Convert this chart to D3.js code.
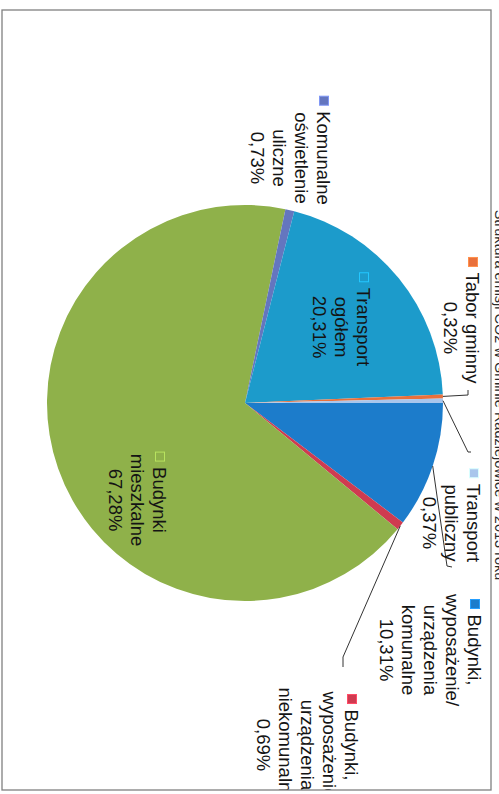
<!DOCTYPE html>
<html>
<head>
<meta charset="utf-8">
<script src="https://cdn.jsdelivr.net/npm/d3@7"></script>
<style>
  html, body { margin: 0; padding: 0; background: #fff; }
  svg { display: block; }
</style>
</head>
<body>
<svg id="chart" width="499" height="794"></svg>
<script>
// Slices, in drawing order (clockwise from 12 o'clock)
const categories = [
  "Budynki, wyposażenie/urządzenia komunalne",
  "Budynki, wyposażenie urządzenia niekomunalne",
  "Budynki mieszkalne",
  "Komunalne oświetlenie uliczne",
  "Transport ogółem",
  "Tabor gminny",
  "Transport publiczny"
];
const shares = [10.31, 0.69, 67.28, 0.73, 20.31, 0.32, 0.37];
const labelLines = [
  ["Budynki,", "wyposażenie/", "urządzenia", "komunalne"],
  ["Budynki,", "wyposażenie", "urządzenia", "niekomunalne"],
  ["Budynki", "mieszkalne"],
  ["Komunalne", "oświetlenie", "uliczne"],
  ["Transport", "ogółem"],
  ["Tabor gminny"],
  ["Transport", "publiczny"]
];
const sliceColors = ["#1c7ccb", "#cf3b50", "#8fb14a", "#6476bf", "#1c9bcb", "#e9703b", "#a9c6ec"];
const chartTitle = "Struktura emisji CO2 w Gminie Radziejowice w 2013 roku";

// Layout (upright chart frame: 794 wide, 499 tall; the page shows it turned 90°)
const cx = 403, cy = 254, R = 198;
const fontSize = 18.5, lineH = 22;
const labelPos = [
  { x: 650, y: 24 },
  { x: 745, y: 147 },
  { x: 500, y: 339 },
  { x: 158, y: 175 },
  { x: 327, y: 135 },
  { x: 328, y: 26 },
  { x: 523, y: 25 }
];
const leaderPts = [
  [[566, 52], [567, 47]],
  [[657, 156], [667, 156]],
  null,
  null,
  null,
  [[395, 31], [390, 31]],
  [[452, 31], [452, 28]]
];

const fmt = v => d3.format(".2f")(v).replace(".", ",") + "%";

const svg = d3.select("#chart");
const root = svg.append("g").attr("transform", "translate(499,0) rotate(90)");

// Chart area frame and clip
root.append("defs").append("clipPath").attr("id", "area")
  .append("rect").attr("x", 10).attr("y", 8).attr("width", 780).attr("height", 489);

root.append("text")
  .attr("x", 395).attr("y", 4)
  .attr("text-anchor", "middle")
  .attr("font-family", "'Liberation Sans', Arial, sans-serif")
  .attr("font-size", 14.5)
  .attr("fill", "#2a2a2a")
  .text(chartTitle);

const area = root.append("g").attr("clip-path", "url(#area)");

const pie = d3.pie().sort(null).value(d => d).startAngle(0).endAngle(2 * Math.PI);
const arcs = pie(shares);
const arcGen = d3.arc().innerRadius(0).outerRadius(R);
const edgeGen = d3.arc().innerRadius(R).outerRadius(R);

const pieG = area.append("g").attr("transform", `translate(${cx},${cy})`);
pieG.selectAll("path.slice")
  .data(arcs)
  .join("path")
  .attr("class", "slice")
  .attr("d", arcGen)
  .attr("fill", (d, i) => sliceColors[i]);

// Leader lines from slice edge to label
arcs.forEach((d, i) => {
  if (!leaderPts[i]) return;
  const c = edgeGen.centroid(d);
  const pts = [[cx + c[0], cy + c[1]], ...leaderPts[i]];
  area.append("path")
    .attr("d", d3.line()(pts))
    .attr("fill", "none")
    .attr("stroke", "#333")
    .attr("stroke-width", 1);
});

// Data labels: legend key + category lines + percentage
const labelsG = area.append("g")
  .attr("font-family", "'Liberation Sans', Arial, sans-serif")
  .attr("font-size", fontSize)
  .attr("fill", "#141414");

arcs.forEach((d, i) => {
  const p = labelPos[i];
  const lines = labelLines[i].concat([fmt(shares[i])]);
  const g = labelsG.append("g");
  let firstW = 0;
  lines.forEach((t, k) => {
    const tx = g.append("text")
      .attr("x", p.x)
      .attr("y", p.y + k * lineH + 0.36 * fontSize)
      .attr("text-anchor", "middle")
      .text(t);
    if (k === 0) firstW = tx.node().getComputedTextLength();
  });
  const col = d3.color(sliceColors[i]);
  const size = 9;
  g.append("rect")
    .attr("x", p.x - firstW / 2 - 6 - size)
    .attr("y", p.y - size / 2)
    .attr("width", size).attr("height", size)
    .attr("fill", sliceColors[i])
    .attr("stroke", col.brighter(0.7))
    .attr("stroke-width", 1);
});

root.append("rect")
  .attr("x", 10).attr("y", 8).attr("width", 780).attr("height", 489)
  .attr("fill", "none")
  .attr("stroke", "#808080")
  .attr("stroke-width", 1.3);
</script>
</body>
</html>
